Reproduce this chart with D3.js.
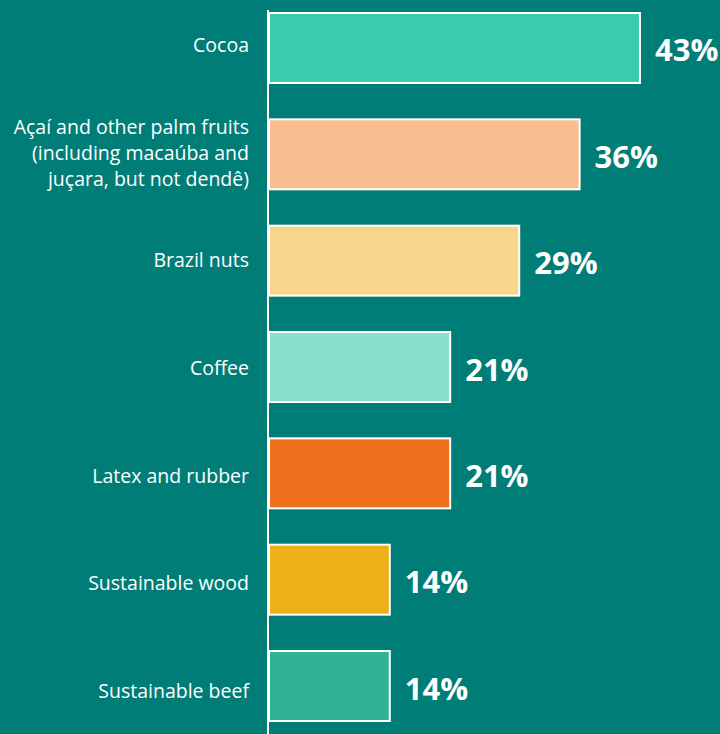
<!DOCTYPE html>
<html><head><meta charset="utf-8">
<script src="https://cdn.jsdelivr.net/npm/d3@7"></script>
<style>body{margin:0;background:#007d76;}svg{display:block;}</style>
</head><body>
<script>
const categories = ["Cocoa", "Açaí and other palm fruits (including macaúba and juçara, but not dendê)", "Brazil nuts", "Coffee", "Latex and rubber", "Sustainable wood", "Sustainable beef"];
const labelLines = [["Cocoa"], ["Açaí and other palm fruits", "(including macaúba and", "juçara, but not dendê)"], ["Brazil nuts"], ["Coffee"], ["Latex and rubber"], ["Sustainable wood"], ["Sustainable beef"]];
const values = [43, 36, 29, 21, 21, 14, 14];
const colors = ["#3ccaae", "#f8be8f", "#f7d68c", "#89dfcd", "#ed711c", "#ecb117", "#31b295"];

const W = 720, H = 734;
const svg = d3.select("body").append("svg").attr("width", W).attr("height", H);
svg.append("rect").attr("width", W).attr("height", H).attr("fill", "#007d76");

const x = d3.scaleLinear().domain([0, 43]).range([269, 640]);
const y = d3.scaleBand().domain(categories).range([13, 721]).paddingInner(0.342).paddingOuter(0);
// category labels sit on their own slightly wider spacing
const yLab = d3.scalePoint().domain(categories).range([46, 692]);

// axis line
svg.append("line").attr("x1", 268).attr("x2", 268).attr("y1", 10).attr("y2", H)
  .attr("stroke", "#fff").attr("stroke-width", 2);

const g = svg.selectAll("g.bar").data(categories).join("g").attr("class", "bar");
g.append("rect")
  .attr("x", x(0))
  .attr("y", d => y(d))
  .attr("width", (d, i) => x(values[i]) - x(0))
  .attr("height", y.bandwidth())
  .attr("fill", (d, i) => colors[i])
  .attr("stroke", "#fff").attr("stroke-width", 2);

g.append("text")
  .attr("x", (d, i) => x(values[i]) + 15)
  .attr("y", d => y(d) + y.bandwidth() / 2 + 13.5)
  .attr("fill", "#fff")
  .attr("font-family", "'Open Sans', sans-serif")
  .attr("font-weight", "bold")
  .attr("font-size", 31)
  .text((d, i) => values[i] + "%");

g.each(function(d, i) {
  const lines = labelLines[i];
  const lh = 26;
  const cy = yLab(d);
  const t = d3.select(this).append("text")
    .attr("text-anchor", "end")
    .attr("fill", "#fff")
    .attr("font-family", "'Open Sans', sans-serif")
    .attr("font-size", 19.5);
  lines.forEach((ln, k) => {
    t.append("tspan").attr("x", 249)
      .attr("y", cy + 6 + (k - (lines.length - 1) / 2) * lh)
      .text(ln);
  });
});
</script>
</body></html>
